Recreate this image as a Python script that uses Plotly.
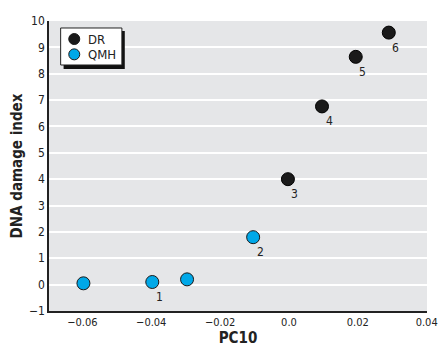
import plotly.graph_objects as go

dr_x = [-0.0003, 0.0096, 0.0194, 0.029]
dr_y = [4.0, 6.76, 8.64, 9.56]
qmh_x = [-0.0597, -0.0397, -0.0296, -0.0104]
qmh_y = [0.05, 0.1, 0.2, 1.8]
label_x = [-0.0397, -0.0104, -0.0003, 0.0096, 0.0194, 0.029]
label_y = [0.1, 1.8, 4.0, 6.76, 8.64, 9.56]
label_text = ["1", "2", "3", "4", "5", "6"]
x_ticks = [-0.06, -0.04, -0.02, 0.0, 0.02, 0.04]
x_tick_text = ["\u22120.06", "\u22120.04", "\u22120.02", "0.0", "0.02", "0.04"]
y_ticks = list(range(-1, 11))
y_tick_text = ["\u22121"] + [str(v) for v in range(0, 11)]
series_names = ["DR", "QMH"]
series_colors = ["#1a1a1a", "#00a8e8"]

FONT = "DejaVu Sans Condensed, Liberation Sans Narrow, Roboto, sans-serif"

fig = go.Figure()
fig.add_trace(go.Scatter(x=dr_x, y=dr_y, mode="markers", name=series_names[0],
                         marker=dict(size=13, color=series_colors[0], line=dict(color="#000", width=1))))
fig.add_trace(go.Scatter(x=qmh_x, y=qmh_y, mode="markers", name=series_names[1],
                         marker=dict(size=13, color=series_colors[1], line=dict(color="#1a1a1a", width=1))))

for x, y, t in zip(label_x, label_y, label_text):
    fig.add_annotation(x=x, y=y, text=t, showarrow=False, xshift=7, yshift=-15,
                       font=dict(size=12, color="#222", family=FONT))

# hand-drawn legend with drop shadow
fig.add_shape(type="rect", xref="paper", yref="paper", x0=0.0386, x1=0.2005, y0=0.8345, y1=0.9655,
              fillcolor="#111", line=dict(width=0), layer="above")
fig.add_shape(type="rect", xref="paper", yref="paper", x0=0.0308, x1=0.1928, y0=0.8483, y1=0.9759,
              fillcolor="white", line=dict(width=1, color="#222"), layer="above")
legend_rows = [0.9379, 0.885]
for name, col, yy in zip(series_names, series_colors, legend_rows):
    fig.add_shape(type="circle", xref="paper", yref="paper", xsizemode="pixel", ysizemode="pixel",
                  xanchor=0.0668, yanchor=yy, x0=-5.5, x1=5.5, y0=-5.5, y1=5.5,
                  fillcolor=col, line=dict(width=1, color="#1a1a1a"), layer="above")
    fig.add_annotation(xref="paper", yref="paper", x=0.0977, y=yy, text=name, showarrow=False,
                       xanchor="left", yanchor="middle", font=dict(size=13, color="#222", family=FONT))

fig.update_layout(
    width=447, height=346,
    margin=dict(l=41, r=28, t=13, b=43),
    paper_bgcolor="white", plot_bgcolor="#e5e6e8",
    font=dict(family=FONT, size=12, color="#222"),
    showlegend=False,
    xaxis=dict(range=[-0.0697, 0.0401], tickvals=x_ticks, ticktext=x_tick_text, showgrid=False,
               zeroline=False, showline=True, linecolor="#222", linewidth=1.5, ticks="",
               automargin=False, ticklabeloverflow="allow", tickfont=dict(size=11),
               title=dict(text="<b>PC10</b>", font=dict(size=15, family=FONT), standoff=2)),
    yaxis=dict(range=[-1, 10], tickvals=y_ticks, ticktext=y_tick_text, showgrid=True,
               gridcolor="white", gridwidth=1.5, zeroline=False, showline=True, linecolor="#222",
               linewidth=1.5, ticks="", automargin=False,
               title=dict(text="<b>DNA damage index</b>", font=dict(size=15, family=FONT), standoff=6)),
)
fig.write_html("out.html")
